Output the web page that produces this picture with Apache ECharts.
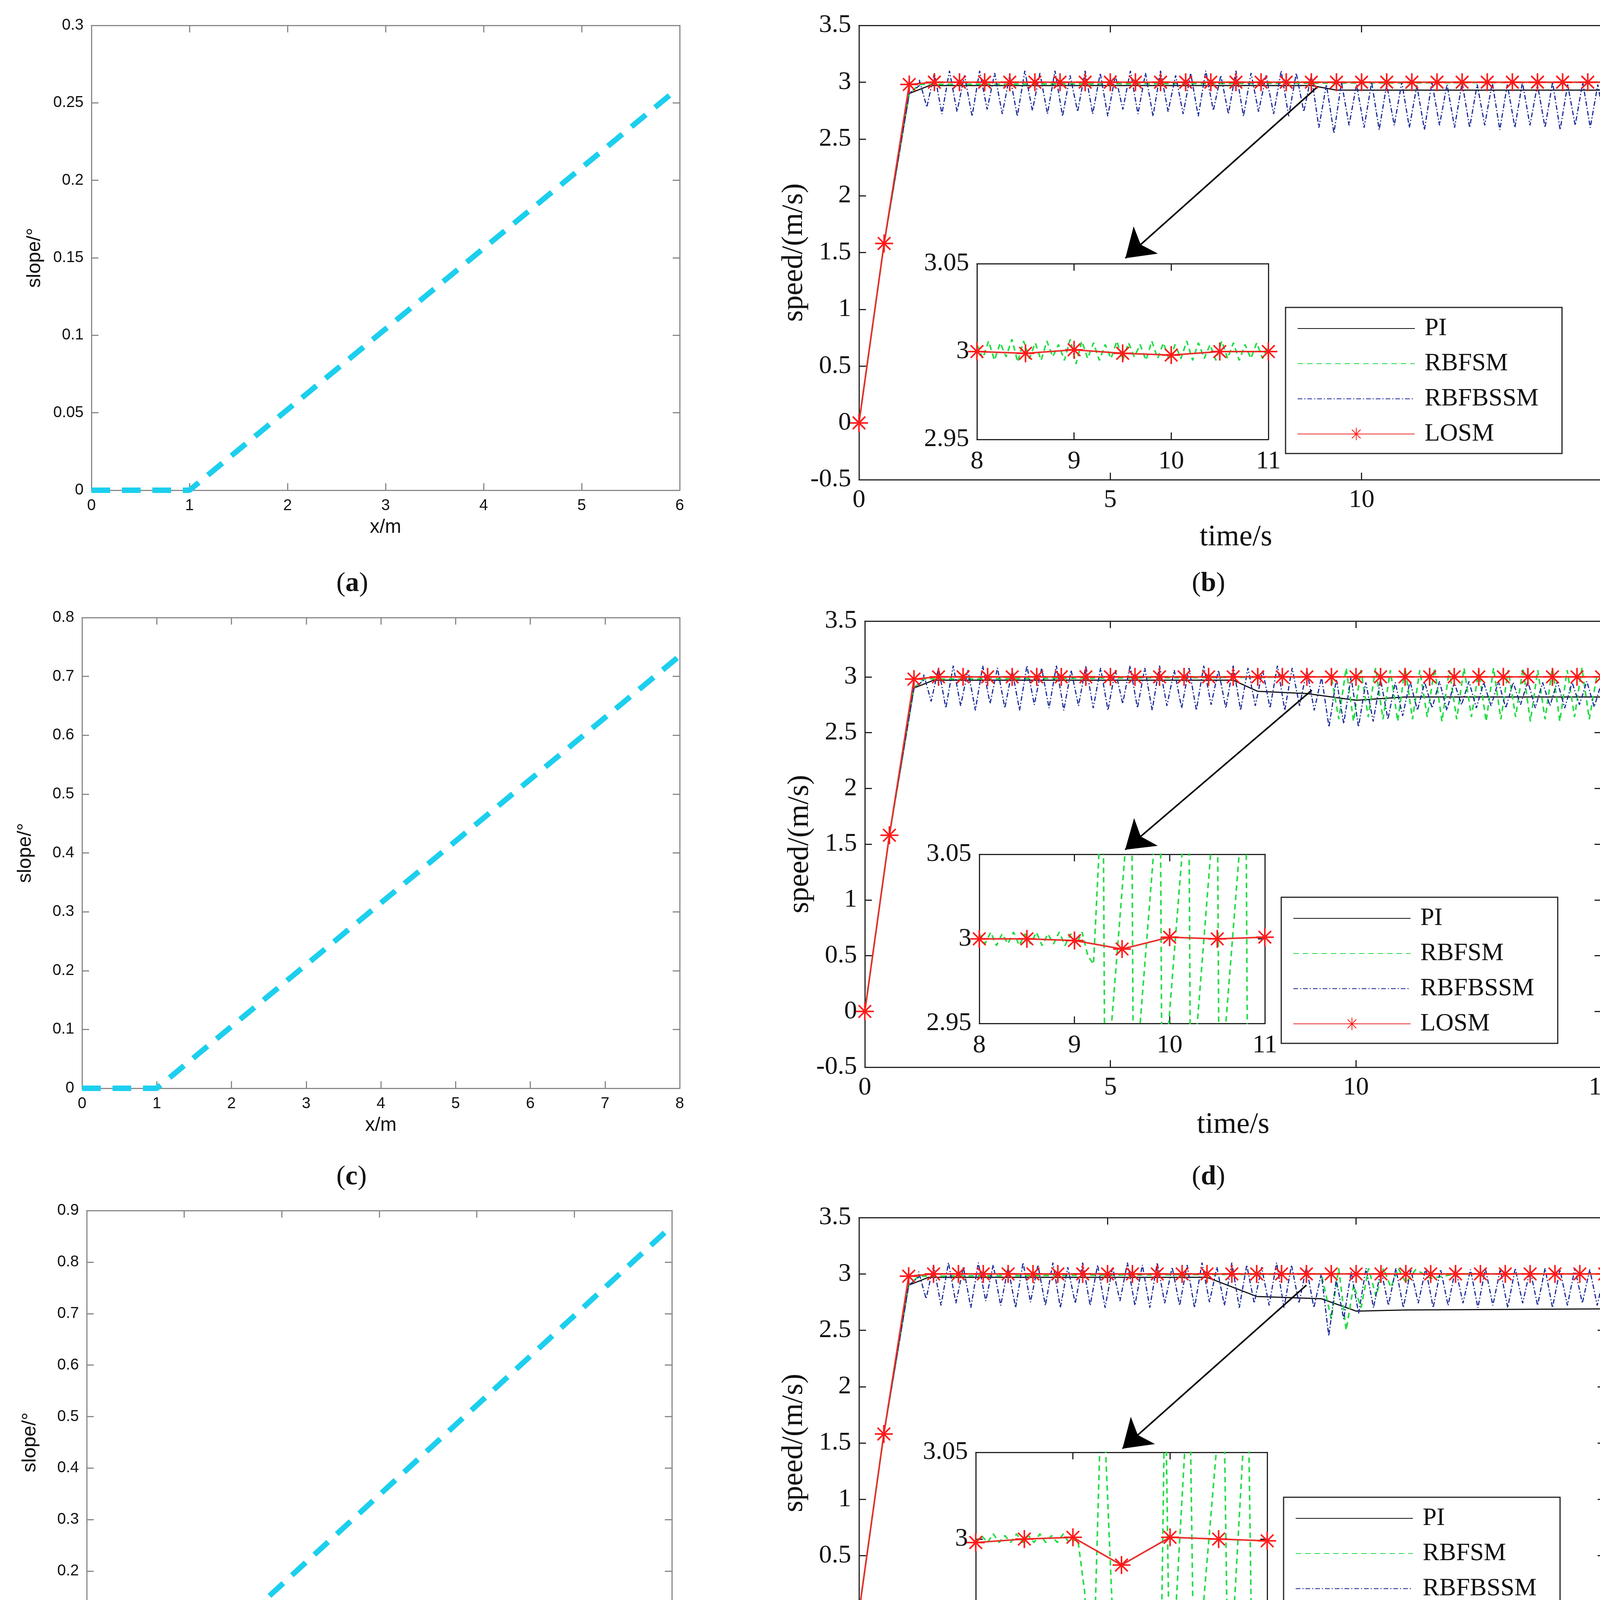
<!DOCTYPE html>
<html>
<head>
<meta charset="utf-8">
<script src="https://cdn.jsdelivr.net/npm/echarts@6/dist/echarts.min.js"></script>
<style>html,body{margin:0;background:#fff}#c{width:4185px;height:4634px}</style>
</head>
<body>
<div id="c"></div>
<script>
// ---- slope panels (x/m, slope/deg)
const slopeA = [[0, 0], [1, 0], [5.9, 0.255]];
const slopeC = [[0, 0], [1, 0], [8, 0.735]];
const slopeE = [[0, 0], [1, 0], [6, 0.87]];

// ---- speed panels, common rise
const rise = [[0, 0], [0.5, 1.58], [1.0, 2.9], [1.2, 2.97]];
const losmMain = [0, 1.58, 2.98, 3, 3, 3, 3, 3, 3, 3, 3, 3, 3, 3, 3, 3, 3, 3, 3, 3, 3, 3, 3, 3, 3, 3, 3, 3, 3, 3, 3];

const piB = [[1.4, 2.97], [9.0, 2.97], [9.5, 2.93], [15, 2.93]];
const piD = [[1.4, 2.97], [7.5, 2.97], [8.0, 2.87], [9.0, 2.85], [10.0, 2.79], [11, 2.82], [15, 2.82]];
const piF = [[1.4, 2.97], [7.0, 2.97], [8.0, 2.8], [9.3, 2.78], [10.0, 2.67], [11, 2.68], [15, 2.69]];

// RBFBSSM oscillation, step 0.15 s from 1.2 s
const bssmDt = 0.15;
const bssmEarly = [3.02, 2.78, 3.08, 2.72, 3.1, 2.74, 3.06, 2.7, 3.1, 2.76, 3.08, 2.72, 3.06, 2.7, 3.1, 2.75, 3.08, 2.72, 3.1, 2.7, 3.06, 2.74, 3.1, 2.72, 3.08, 2.7, 3.06, 2.76, 3.1, 2.72, 3.08, 2.7, 3.1, 2.74, 3.06, 2.72, 3.08, 2.7, 3.1, 2.75, 3.06, 2.72, 3.1, 2.7, 3.08, 2.74, 3.06, 2.72, 3.1, 2.7, 3.08, 2.74, 3.06];
const bssmLateB = [2.6, 2.98, 2.55, 3.0, 2.62, 2.98, 2.6, 3.0, 2.58, 2.98, 2.62, 3.0, 2.6, 2.97, 2.58, 3.0, 2.62, 2.98, 2.6, 3.0, 2.6, 2.98, 2.62, 3.0, 2.58, 2.98, 2.6, 3.0, 2.62, 2.98, 2.6, 3.0, 2.58, 2.98, 2.62, 3.0, 2.6, 2.98, 2.6, 2.98];
const bssmLateD = [2.7, 3.0, 2.55, 2.98, 2.58, 3.0, 2.55, 2.95, 2.6, 2.98, 2.62, 2.95, 2.65, 2.96, 2.7, 2.95, 2.72, 2.96, 2.7, 2.95, 2.75, 2.96, 2.72, 2.95, 2.74, 2.96, 2.72, 2.95, 2.75, 2.96, 2.72, 2.95, 2.74, 2.96, 2.72, 2.95, 2.75, 2.96, 2.73, 2.95];
const bssmLateF = [2.7, 3.0, 2.45, 2.95, 2.6, 3.02, 2.65, 3.05, 2.7, 3.04, 2.72, 3.05, 2.7, 3.04, 2.74, 3.05, 2.7, 3.04, 2.72, 3.05, 2.74, 3.04, 2.7, 3.05, 2.72, 3.04, 2.7, 3.05, 2.74, 3.04, 2.72, 3.05, 2.7, 3.04, 2.72, 3.05, 2.74, 3.04, 2.72, 3.02];

// RBFSM main
const fsmB = [[1.2, 2.98], [15, 3.0]];
const fsmD = [[1.2, 2.98], [9.5, 3.0], [9.65, 2.62], [9.8, 3.08], [9.95, 2.6], [10.1, 3.06], [10.25, 2.64], [10.4, 3.08], [10.55, 2.62], [10.7, 3.06], [10.85, 2.6], [11.0, 3.08], [11.15, 2.62], [11.3, 3.06], [11.45, 2.64], [11.6, 3.08], [11.75, 2.6], [11.9, 3.06], [12.05, 2.62], [12.2, 3.08], [12.35, 2.64], [12.5, 3.06], [12.65, 2.6], [12.8, 3.08], [12.95, 2.62], [13.1, 3.06], [13.25, 2.64], [13.4, 3.08], [13.55, 2.6], [13.7, 3.06], [13.85, 2.62], [14.0, 3.08], [14.15, 2.6], [14.3, 3.06], [14.45, 2.64], [14.6, 3.08], [14.75, 2.62], [14.9, 3.0]];
const fsmF = [[1.2, 2.98], [9.3, 3.0], [9.5, 2.6], [9.65, 3.05], [9.8, 2.5], [9.95, 2.9], [10.1, 2.7], [10.25, 3.05], [10.4, 2.8], [10.55, 3.05], [10.7, 2.88], [10.85, 3.05], [11.0, 2.92], [11.2, 3.04], [11.5, 2.96], [12, 3.0], [15, 3.0]];

// inset RBFSM, step 0.06 s from 8 s
const insetDt = 0.06;
const fsmInsetB = [3.004, 2.996, 3.006, 2.995, 3.005, 2.997, 3.007, 2.994, 3.006, 2.996, 3.005, 2.995, 3.006, 2.997, 3.004, 2.995, 3.007, 2.993, 3.006, 2.996, 3.005, 2.995, 3.004, 2.996, 3.006, 2.995, 3.005, 2.997, 3.004, 2.995, 3.006, 2.996, 3.005, 2.995, 3.004, 2.996, 3.006, 2.995, 3.005, 2.996, 3.004, 2.995, 3.006, 2.996, 3.005, 2.995, 3.004, 2.996, 3.005, 2.996, 3.004];
const fsmInsetD = [[8, 3.003], [8.06, 2.997], [8.12, 3.004], [8.18, 2.996], [8.24, 3.003], [8.3, 2.997], [8.36, 3.004], [8.42, 2.996], [8.48, 3.003], [8.54, 2.997], [8.6, 3.004], [8.66, 2.996], [8.72, 3.003], [8.78, 2.997], [8.84, 3.004], [8.9, 2.996], [8.96, 3.003], [9.02, 2.997], [9.08, 3.004], [9.14, 2.99], [9.2, 2.985], [9.3, 3.1], [9.32, 2.9], [9.6, 3.1], [9.62, 2.9], [9.9, 3.1], [9.92, 2.9], [10.2, 3.1], [10.22, 2.9], [10.5, 3.1], [10.52, 2.9], [10.8, 3.1], [10.82, 2.9]];
const fsmInsetF = [[8, 2.998], [8.06, 3.002], [8.12, 2.998], [8.18, 3.003], [8.24, 2.998], [8.3, 3.002], [8.36, 2.998], [8.42, 3.003], [8.48, 2.998], [8.54, 3.002], [8.6, 2.998], [8.66, 3.003], [8.72, 2.998], [8.78, 3.002], [8.84, 2.998], [8.9, 3.003], [8.96, 2.998], [9.05, 3.0], [9.12, 2.97], [9.2, 2.9], [9.3, 3.1], [9.45, 2.9], [9.9, 2.9], [9.95, 3.1], [10.0, 2.9], [10.2, 3.1], [10.25, 2.9], [10.55, 3.1], [10.6, 2.9], [10.8, 3.1], [10.85, 2.9]];

const losmInsetT = [8, 8.5, 9, 9.5, 10, 10.5, 11];
const losmInsetB = [3.0, 2.999, 3.001, 2.999, 2.998, 3.0, 3.0];
const losmInsetD = [3.0, 3.0, 2.999, 2.994, 3.001, 3.0, 3.001];
const losmInsetF = [2.998, 3.0, 3.001, 2.985, 3.001, 3.0, 2.999];

const arrowB = [[9.1, 2.95], [5.3, 1.45]];
const arrowD = [[9.1, 2.88], [5.3, 1.45]];
const arrowF = [[9.0, 2.9], [5.3, 1.45]];

const seq = (t0, dt, vals) => vals.map((v, i) => [+(t0 + i * dt).toFixed(3), v]);
const losmPts = losmMain.map((v, i) => [i * 0.5, v]);
const star = 'path://M0,-10L0,10M-10,0L10,0M-7,-7L7,7M-7,7L7,-7';
const serif = 'Liberation Serif';

const slopeGrids = [
  {left: 234, top: 65, width: 1506, height: 1190, xmax: 6, ymax: 0.3, yint: 0.05, data: slopeA},
  {left: 210, top: 1581, width: 1530, height: 1205, xmax: 8, ymax: 0.8, yint: 0.1, data: slopeC},
  {left: 222, top: 3099, width: 1498, height: 1187, xmax: 6, ymax: 0.9, yint: 0.1, data: slopeE}
];
const speedGrids = [
  {left: 2199, top: 65, width: 1930, height: 1163, pi: piB, late: bssmLateB, fsm: fsmB,
   inset: {left: 2501, top: 675, width: 746, height: 450}, fi: seq(8, insetDt, fsmInsetB), li: losmInsetB, arrow: arrowB, legTop: 787, legLeft: 3291},
  {left: 2214, top: 1590, width: 1886, height: 1142, pi: piD, late: bssmLateD, fsm: fsmD,
   inset: {left: 2507, top: 2187, width: 731, height: 433}, fi: fsmInsetD, li: losmInsetD, arrow: arrowD, legTop: 2297, legLeft: 3280},
  {left: 2199, top: 3117, width: 1909, height: 1154, pi: piF, late: bssmLateF, fsm: fsmF,
   inset: {left: 2498, top: 3718, width: 746, height: 444}, fi: fsmInsetF, li: losmInsetF, arrow: arrowF, legTop: 3833, legLeft: 3286}
];

const grid = [], xAxis = [], yAxis = [], series = [], legend = [];

function addAxes(gi, o, col, fs, labelFont) {
  const tick = {inside: true, length: 18, lineStyle: {color: col, width: 3}};
  const line = {show: true, onZero: false, lineStyle: {color: col, width: 3}};
  const lab = {fontFamily: labelFont, fontSize: fs, color: '#111', margin: 20};
  xAxis.push({gridIndex: gi, type: 'value', min: o.xmin, max: o.xmax, interval: o.xint, axisLine: line, axisTick: tick,
    splitLine: {show: false}, axisLabel: lab, name: o.xname, nameLocation: 'middle', nameGap: o.xgap,
    nameTextStyle: {fontFamily: labelFont, fontSize: o.nfs, color: '#111'}});
  xAxis.push({gridIndex: gi, type: 'value', position: 'top', min: o.xmin, max: o.xmax, interval: o.xint, axisLine: line,
    axisTick: tick, splitLine: {show: false}, axisLabel: {show: false}});
  yAxis.push({gridIndex: gi, type: 'value', min: o.ymin, max: o.ymax, interval: o.yint, axisLine: line, axisTick: tick,
    splitLine: {show: false}, axisLabel: Object.assign({}, lab, {formatter: v => +v.toFixed(2) + ''}), name: o.yname,
    nameLocation: 'middle', nameGap: o.ygap, nameRotate: 90,
    nameTextStyle: {fontFamily: labelFont, fontSize: o.nfs, color: '#111'}});
  yAxis.push({gridIndex: gi, type: 'value', position: 'right', min: o.ymin, max: o.ymax, interval: o.yint, axisLine: line,
    axisTick: tick, splitLine: {show: false}, axisLabel: {show: false}});
  return xAxis.length - 2;
}

slopeGrids.forEach(g => {
  const gi = grid.length;
  grid.push({left: g.left, top: g.top, width: g.width, height: g.height});
  const ai = addAxes(gi, {xmin: 0, xmax: g.xmax, xint: 1, ymin: 0, ymax: g.ymax, yint: g.yint,
    xname: 'x/m', yname: 'slope/°', xgap: 70, ygap: 120, nfs: 50}, '#8a8a8a', 40, 'Liberation Sans');
  series.push({type: 'line', xAxisIndex: ai, yAxisIndex: ai, data: g.data, symbol: 'none', silent: true,
    lineStyle: {color: '#1ccfee', width: 14, type: [48, 30]}});
});

const hideSym = {color: 'rgba(0,0,0,0)', borderWidth: 0};

speedGrids.forEach(g => {
  let gi = grid.length;
  grid.push({left: g.left, top: g.top, width: g.width, height: g.height});
  let ai = addAxes(gi, {xmin: 0, xmax: 15, xint: 5, ymin: -0.5, ymax: 3.5, yint: 0.5,
    xname: 'time/s', yname: 'speed/(m/s)', xgap: 110, ygap: 120, nfs: 76}, '#222', 66, serif);
  const bssm = rise.concat(seq(1.2, bssmDt, bssmEarly.concat(g.late)));
  series.push({name: 'PI', type: 'line', xAxisIndex: ai, yAxisIndex: ai, data: rise.slice(0, 3).concat(g.pi), symbol: 'none',
    itemStyle: {color: '#111'}, lineStyle: {color: '#111', width: 3}});
  series.push({name: 'RBFSM', type: 'line', xAxisIndex: ai, yAxisIndex: ai, data: rise.slice(0, 3).concat(g.fsm), symbol: 'none',
    itemStyle: {color: '#22dd44'}, lineStyle: {color: '#22dd44', width: 4, type: [14, 10]}});
  series.push({name: 'RBFBSSM', type: 'line', xAxisIndex: ai, yAxisIndex: ai, data: bssm, symbol: 'none',
    itemStyle: {color: '#1a2a9a'}, lineStyle: {color: '#1a2a9a', width: 3, type: [12, 5, 3, 5]}});
  series.push({name: 'LOSM', type: 'line', xAxisIndex: ai, yAxisIndex: ai, data: losmPts, symbol: star, symbolSize: 46,
    lineStyle: {color: '#e8302a', width: 4}, itemStyle: {color: 'none', borderColor: '#ff1a1a', borderWidth: 4}});
  series.push({type: 'lines', coordinateSystem: 'cartesian2d', xAxisIndex: ai, yAxisIndex: ai, silent: true, z: 5,
    data: [{coords: g.arrow}], symbol: ['none', 'arrow'], symbolSize: 70, lineStyle: {color: '#000', width: 4, opacity: 1}});
  // inset
  gi = grid.length;
  grid.push(Object.assign({show: true, backgroundColor: '#fff', borderWidth: 0, z: 10}, g.inset));
  ai = addAxes(gi, {xmin: 8, xmax: 11, xint: 1, ymin: 2.95, ymax: 3.05, yint: 0.05}, '#222', 66, serif);
  [ai, ai + 1].forEach(k => { xAxis[k].z = 11; yAxis[k].z = 11; });
  xAxis[ai].axisLabel.margin = 24;
  series.push({name: 'RBFSM', type: 'line', xAxisIndex: ai, yAxisIndex: ai, data: g.fi, symbol: 'none', z: 12,
    itemStyle: {color: '#22dd44'}, lineStyle: {color: '#22dd44', width: 4, type: [14, 10]}});
  series.push({name: 'LOSM', type: 'line', xAxisIndex: ai, yAxisIndex: ai, z: 13, clip: false,
    data: losmInsetT.map((t, i) => [t, g.li[i]]), symbol: star, symbolSize: 46,
    lineStyle: {color: '#e8302a', width: 4}, itemStyle: {color: 'none', borderColor: '#ff1a1a', borderWidth: 4}});
  legend.push({orient: 'vertical', left: g.legLeft, top: g.legTop,
    data: [{name: 'PI', itemStyle: hideSym}, {name: 'RBFSM', itemStyle: hideSym}, {name: 'RBFBSSM', itemStyle: hideSym}, 'LOSM'],
    backgroundColor: '#fff', borderColor: '#222', borderWidth: 3, padding: [22, 60, 18, 30], itemGap: 26,
    itemWidth: 300, itemHeight: 40, selectedMode: false,
    textStyle: {fontFamily: serif, fontSize: 64, color: '#111', padding: [0, 0, 0, 20]}});
});

const labels = [['a', 906, 1500], ['b', 3096, 1500], ['c', 906, 3019], ['d', 3096, 3019], ['e', 906, 4543], ['f', 3096, 4543]];
const graphic = labels.map(([l, x, y]) => ({type: 'text', left: x - 45, top: y - 40,
  style: {text: '(' + '{b|' + l + '})', fontFamily: serif, fontSize: 70, fill: '#111',
    rich: {b: {fontFamily: serif, fontSize: 70, fontWeight: 'bold', fill: '#111'}}}}));

const chart = echarts.init(document.getElementById('c'));
chart.setOption({animation: false, backgroundColor: '#fff', grid, xAxis, yAxis, series, legend, graphic});
</script>
</body>
</html>
